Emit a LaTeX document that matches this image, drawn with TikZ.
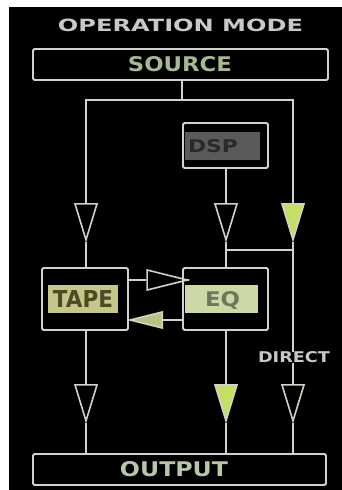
\documentclass[tikz,border=0pt]{standalone}
\usepackage{fontspec}
\setmainfont{DejaVu Sans}
\usepackage{graphicx}
\usetikzlibrary{shapes.geometric,positioning}
\definecolor{wirec}{HTML}{D2D2CA}
\definecolor{titlec}{HTML}{C8C8C4}
\definecolor{srcc}{HTML}{A8B894}
\definecolor{outc}{HTML}{B8C6AA}
\definecolor{tapefill}{HTML}{C6C68A}
\definecolor{tapetext}{HTML}{4C4C24}
\definecolor{eqfill}{HTML}{CCD8A8}
\definecolor{eqtext}{HTML}{6E7856}
\definecolor{dspfill}{HTML}{5A5A5A}
\definecolor{dsptext}{HTML}{2A2A2A}
\definecolor{glow}{HTML}{C4E064}
\definecolor{glowb}{HTML}{B4C47C}
\newcommand{\fitto}[3]{\resizebox{#1pt}{#2pt}{\bfseries #3}}

\begin{document}
\begin{tikzpicture}[x=1pt, y=-1pt,
    wire/.style={draw=wirec, line width=1.9pt},
    frame/.style={rectangle, draw=wirec, line width=1.9pt, rounded corners=1.5pt,
                  inner sep=0pt},
    lamp/.style={rectangle, inner sep=0pt},
    label/.style={inner sep=0pt},
    valve/.style={isosceles triangle, isosceles triangle stretches, draw=wirec,
                  line width=1.6pt, inner sep=0pt, fill=black},
    valvedown/.style={valve, shape border rotate=270, minimum width=22pt, minimum height=36pt},
]
\useasboundingbox (0,0) rectangle (342,490);
\fill[white] (0,0) rectangle (342,490);
\fill[black] (9,7) rectangle (342,490);

% Title
\node[label, text=titlec] (title) at (180.5,25) {\fitto{245}{12.5}{OPERATION MODE}};

% Source and output bars
\node[frame, minimum width=295pt, minimum height=31pt] (source) at (180.5,64.5) {};
\node[label, text=srcc] (sourcelbl) at (180,64.5) {\fitto{104}{15}{SOURCE}};
\node[frame, minimum width=293pt, minimum height=31pt] (output) at (179.5,469.5) {};
\node[label, text=outc] (outputlbl) at (174,469.5) {\fitto{108}{15}{OUTPUT}};

% DSP
\node[frame, minimum width=85pt, minimum height=45pt] (dsp) at (225.5,145.5) {};
\node[lamp, fill=dspfill, minimum width=75pt, minimum height=28pt] (dsplamp) at (222.5,146) {};
\node[label, text=dsptext] (dsplbl) at (213,146) {\fitto{50}{13}{DSP}};

% Tape and EQ
\node[frame, minimum width=86pt, minimum height=62pt] (tape) at (85,299) {};
\node[lamp, fill=tapefill, minimum width=70pt, minimum height=28pt] (tapelamp) at (83,299) {};
\node[label, text=tapetext] (tapelbl) at (83,298.5) {\fitto{60}{17}{TAPE}};
\node[frame, minimum width=85pt, minimum height=62pt] (eq) at (225.5,299) {};
\node[lamp, fill=eqfill, minimum width=73pt, minimum height=28pt] (eqlamp) at (221.5,299) {};
\node[label, text=eqtext] (eqlbl) at (222.5,300.5) {\fitto{35}{15}{EQ}};

% Direct label
\node[label, text=titlec] (direct) at (294,357.5) {\fitto{72}{11}{DIRECT}};

% Valves
\node[valvedown] (vtape) at (86,212) {};
\node[valvedown] (vdsp) at (226,212) {};
\node[valvedown, fill=glow] (vdirect) at (293,212) {};
\node[valvedown] (vtapeout) at (86,393) {};
\node[valvedown, fill=glow] (veqout) at (226,393) {};
\node[valvedown] (vdirectout) at (293,393) {};
\node[valve, minimum width=20pt, minimum height=40pt] (vtoeq) at (155,280) {};
\node[valve, shape border rotate=180, fill=glowb, minimum width=16pt, minimum height=32pt] (vtotape) at (156,320) {};

% Wires
\coordinate (split) at (182,100);
\coordinate (merge) at (226,250);
\draw[wire] (source.south -| split) -- (split);
\draw[wire] (vtape.north) |- (split) -| (vdirect.north);
\draw[wire] (vtape.apex) -- (vtape.apex |- tape.north);
\draw[wire] (dsp.south -| vdsp) -- (vdsp.north);
\draw[wire] (vdsp.apex) -- (vdsp.apex |- eq.north);
\draw[wire] (merge) -- (merge -| vdirect);
\draw[wire] (vdirect.apex) -- (direct.north -| vdirect);
\draw[wire] (direct.south -| vdirectout) -- (vdirectout.north);
\draw[wire] (tape.south -| vtapeout) -- (vtapeout.north);
\draw[wire] (eq.south -| veqout) -- (veqout.north);
\draw[wire] (vtapeout.apex) -- (vtapeout.apex |- output.north);
\draw[wire] (veqout.apex) -- (veqout.apex |- output.north);
\draw[wire] (vdirectout.apex) -- (vdirectout.apex |- output.north);
\draw[wire] (tape.east |- vtoeq) -- (vtoeq.west);
\draw[wire] (vtoeq.apex) -- (eq.west |- vtoeq);
\draw[wire] (eq.west |- vtotape) -- (vtotape.east);
\draw[wire] (vtotape.apex) -- (tape.east |- vtotape);
\end{tikzpicture}
\end{document}
